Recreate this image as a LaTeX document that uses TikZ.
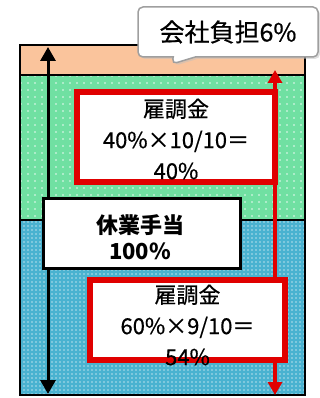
\documentclass[tikz,border=0pt]{standalone}
\usepackage{fontspec}
\setmainfont{Noto Sans CJK JP}
\usetikzlibrary{arrows.meta,patterns,shapes.callouts,shadows}
\definecolor{futanorange}{RGB}{250,196,156}
\definecolor{kochogreen}{RGB}{112,224,162}
\definecolor{kochoblue}{RGB}{74,178,208}
\definecolor{kochored}{RGB}{224,0,0}
\pgfdeclarepatternformonly{sparsedots}{\pgfqpoint{-1pt}{-1pt}}{\pgfqpoint{1pt}{1pt}}{\pgfqpoint{7pt}{7pt}}{%
  \pgfpathcircle{\pgfqpoint{0pt}{0pt}}{0.9pt}\pgfusepath{fill}}
\pgfdeclarepatternformonly{densedots}{\pgfqpoint{-1pt}{-1pt}}{\pgfqpoint{1pt}{1pt}}{\pgfqpoint{4pt}{4pt}}{%
  \pgfpathcircle{\pgfqpoint{0pt}{0pt}}{0.8pt}\pgfusepath{fill}}
\tikzset{
  band/.style={draw=black, line width=2pt},
  redbox/.style={draw=kochored, line width=5.5pt, fill=white, inner sep=0pt},
  blackbox/.style={draw=black, line width=3pt, fill=white, inner sep=0pt},
  redtxt/.style={font=\fontsize{22}{31}\selectfont\addfontfeature{FakeBold=0.5}, align=center, inner sep=0pt},
  blacktxt/.style={font=\fontsize{22}{26}\selectfont\bfseries, align=center, inner sep=0pt},
  kyuarrow/.style={line width=3pt, {Triangle[length=14pt,width=15pt]}-{Triangle[length=14pt,width=15pt]}},
  fuarrow/.style={draw=kochored, line width=3.5pt, {Triangle[length=13pt,width=14pt]}-{Triangle[length=13pt,width=14pt]}},
}

\begin{document}
\begin{tikzpicture}[x=1pt,y=-1pt]
  %%%%% START %%%%%
  \useasboundingbox (0,0) rectangle (320,398);

  % bands
  \fill[futanorange] (20,45) rectangle (305,75);
  \fill[kochogreen] (20,75) rectangle (305,220);
  \fill[pattern=sparsedots, pattern color=white!85!kochogreen] (20,75) rectangle (305,220);
  \fill[kochoblue] (20,220) rectangle (305,395);
  \fill[pattern=densedots, pattern color=white!60!kochoblue] (20,220) rectangle (305,395);
  \draw[band] (20,45) rectangle (305,395);
  \draw[band] (20,75) -- (305,75);
  \draw[band] (20,220) -- (305,220);

  % arrows
  \coordinate (kyutop) at (48,47);
  \coordinate (kyubot) at (48,394);
  \coordinate (futop) at (275,70);
  \coordinate (fubot) at (275,395);
  \draw[kyuarrow] (kyutop) -- (kyubot);
  \draw[fuarrow] (futop) -- (fubot);

  % boxes
  \node[redbox, minimum width=198, minimum height=90] (kocho1) at (176,137) {};
  \node[redtxt] (kocho1txt) at (176,139) {雇調金\\40\%×10/10＝\\40\%};

  \node[blackbox, minimum width=197, minimum height=70] (kyugyo) at (141.5,233) {};
  \node[blacktxt] (kyugyotxt) at (140,237) {休業手当\\100\%};

  \node[redbox, minimum width=195, minimum height=80] (kocho2) at (187.5,320) {};
  \node[redtxt] (kocho2txt) at (187.5,325) {雇調金\\60\%×9/10＝\\54\%};

  % callout
  \coordinate (futantip) at (172,64);
  \node[rectangle callout, callout absolute pointer={(futantip)}, callout pointer width=22pt,
        draw=gray!75, line width=1.5pt, fill=white, rounded corners=5pt,
        drop shadow={shadow xshift=2pt, shadow yshift=-2pt, fill=gray!50},
        minimum width=180, minimum height=50,
        font=\fontsize{25}{28}\selectfont\addfontfeature{FakeBold=0.5}] (futan) at (228,32) {会社負担6\%};
  %%%%% END %%%%%
\end{tikzpicture}
\end{document}
